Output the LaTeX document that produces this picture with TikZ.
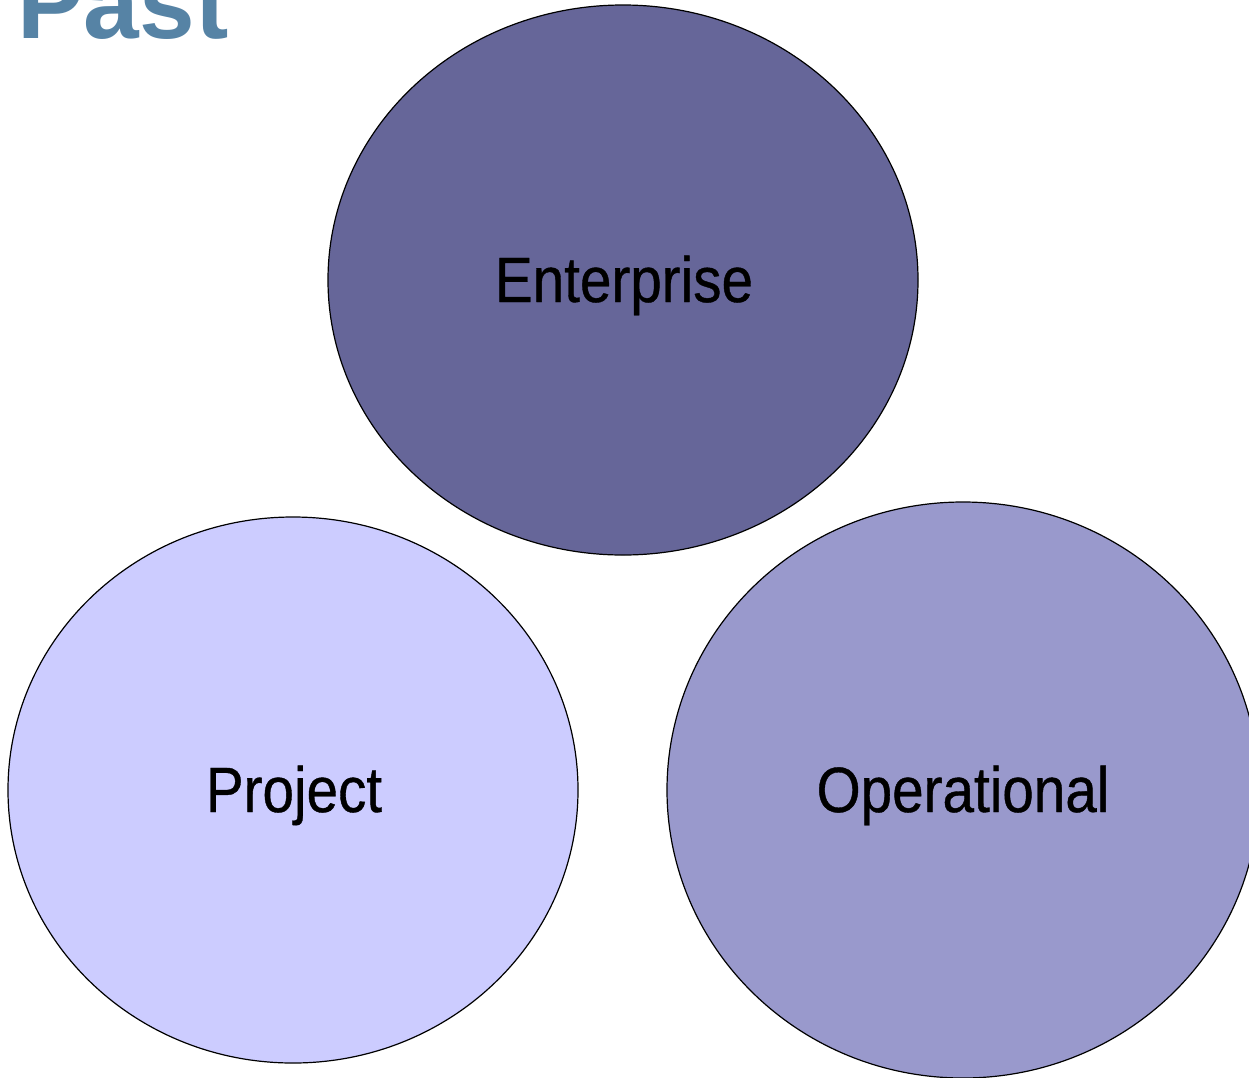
\documentclass[tikz,border=0pt]{standalone}
\usepackage{fontspec}
\setmainfont{Liberation Sans}
\newfontfamily\narrowfont[FakeStretch=0.885,FakeBold=0.6]{Liberation Sans}
\usetikzlibrary{shapes.geometric}
\definecolor{titleblue}{RGB}{86,131,165}
\definecolor{entfill}{RGB}{102,102,153}
\definecolor{projfill}{RGB}{204,204,255}
\definecolor{opfill}{RGB}{153,153,204}
\tikzset{
  bubble/.style={ellipse, draw=black, line width=1.2pt, inner sep=0pt},
  bubbletext/.style={anchor=base, inner sep=0pt, font=\narrowfont\fontsize{64}{70}\selectfont, text=black},
}
\begin{document}
\begin{tikzpicture}[x=1pt,y=-1pt]
\useasboundingbox (0,0) rectangle (1249,1077);
\clip (0,0) rectangle (1249,1077);
\node[anchor=base west, inner sep=0pt, text=titleblue, font=\bfseries\fontsize{100}{110}\selectfont] (title) at (17,38) {Past};
\node[bubble, fill=entfill, minimum width=590pt, minimum height=550pt] (ent) at (623,280) {};
\node[bubble, fill=projfill, minimum width=570pt, minimum height=546pt] (proj) at (293,790) {};
\node[bubble, fill=opfill, minimum width=592pt, minimum height=576pt] (op) at (963,790) {};
\node[bubbletext] (entlabel) at (624,302) {Enterprise};
\node[bubbletext] (projlabel) at (294,812) {Project};
\node[bubbletext] (oplabel) at (963,812) {Operational};
\end{tikzpicture}
\end{document}
